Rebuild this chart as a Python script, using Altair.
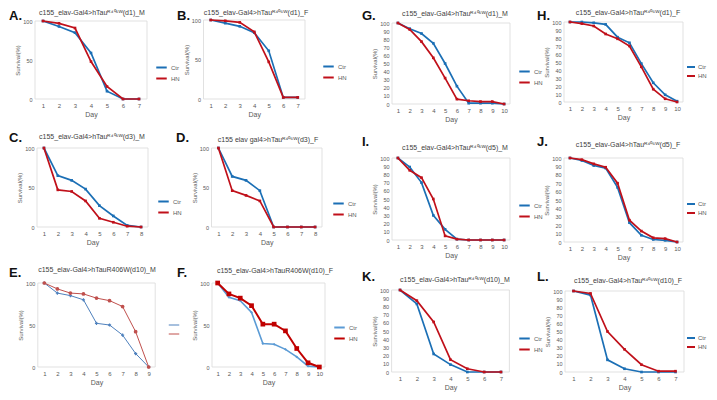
import altair as alt
import pandas as pd

W, H = 701, 384
OFF = 8  # page margin

# ---------------- data ----------------
A_days = [1, 2, 3, 4, 5, 6, 7]
A_ctr = [100, 93, 85, 59, 10, 0, 0]
A_hn = [100, 97, 91, 48, 16, 0, 0]
B_days = [1, 2, 3, 4, 5, 6, 7]
B_ctr = [100, 96, 92, 84, 61, 2, 2]
B_hn = [100, 99, 97, 85, 47, 2, 2]
C_days = [1, 2, 3, 4, 5, 6, 7, 8]
C_ctr = [100, 65, 59, 48, 27, 14, 2, 0]
C_hn = [100, 47, 45, 33, 11, 6, 1, 0]
D_days = [1, 2, 3, 4, 5, 6, 7, 8]
D_ctr = [100, 64, 59, 46, 0, 0, 0, 0]
D_hn = [100, 46, 40, 33, 0, 0, 0, 0]
E_days = [1, 2, 3, 4, 5, 6, 7, 8, 9]
E_ctr = [100, 88, 85, 80, 52, 50, 38, 16, 0]
E_hn = [100, 93, 88, 87, 82, 79, 72, 42, 0]
F_days = [1, 2, 3, 4, 5, 6, 7, 8, 9, 10]
F_ctr = [100, 83, 79, 65, 28, 27, 21, 12, 1, 0]
F_hn = [100, 87, 82, 73, 51, 51, 43, 22, 5, 0]
G_days = [1, 2, 3, 4, 5, 6, 7, 8, 9, 10]
G_ctr = [100, 93, 87, 75, 50, 22, 1, 1, 1, 0]
G_hn = [100, 92, 77, 57, 32, 6, 4, 3, 3, 0]
H_days = [1, 2, 3, 4, 5, 6, 7, 8, 9, 10]
H_ctr = [100, 100, 99, 97, 81, 74, 48, 24, 9, 1]
H_hn = [100, 98, 95, 85, 79, 70, 44, 16, 4, 0]
I_days = [1, 2, 3, 4, 5, 6, 7, 8, 9, 10]
I_ctr = [100, 89, 70, 30, 13, 1, 0, 0, 0, 0]
I_hn = [100, 85, 76, 50, 5, 1, 0, 0, 0, 0]
J_days = [1, 2, 3, 4, 5, 6, 7, 8, 9, 10]
J_ctr = [100, 97, 91, 88, 65, 23, 8, 3, 2, 0]
J_hn = [100, 98, 93, 89, 70, 26, 13, 5, 4, 0]
K_days = [1, 2, 3, 4, 5, 6, 7]
K_ctr = [100, 83, 22, 9, 0, 0, 0]
K_hn = [100, 87, 61, 15, 4, 0, 0]
L_days = [1, 2, 3, 4, 5, 6, 7]
L_ctr = [100, 95, 15, 4, 0, 0, 0]
L_hn = [100, 97, 50, 28, 9, 1, 1]

SUP = "ᴿ⁴⁰⁶ᵂ"
titles = {
    "A": f"c155_elav-Gal4>hTau{SUP}(d1)_M",
    "B": f"c155_elav-Gal4>hTau{SUP}(d1)_F",
    "C": f"c155_elav-Gal4>hTau{SUP}(d3)_M",
    "D": f"c155 elav gal4>hTau{SUP}(d3)_F",
    "E": "c155_elav-Gal4>hTauR406W(d10)_M",
    "F": "c155_elav-Gal4>hTauR406W(d10)_F",
    "G": f"c155_elav-Gal4>hTau{SUP}(d1)_M",
    "H": f"c155_elav-Gal4>hTau{SUP}(d1)_F",
    "I": f"c155_elav-Gal4>hTau{SUP}(d5)_M",
    "J": f"c155_elav-Gal4>hTau{SUP}(d5)_F",
    "K": f"c155_elav-Gal4>hTau{SUP}(d10)_M",
    "L": f"c155_elav-Gal4>hTau{SUP}(d10)_F",
}

series = {
    "A": (A_days, A_ctr, A_hn), "B": (B_days, B_ctr, B_hn),
    "C": (C_days, C_ctr, C_hn), "D": (D_days, D_ctr, D_hn),
    "E": (E_days, E_ctr, E_hn), "F": (F_days, F_ctr, F_hn),
    "G": (G_days, G_ctr, G_hn), "H": (H_days, H_ctr, H_hn),
    "I": (I_days, I_ctr, I_hn), "J": (J_days, J_ctr, J_hn),
    "K": (K_days, K_ctr, K_hn), "L": (L_days, L_ctr, L_hn),
}

# layout (image pixel coords): frame x0,x1 ; y bottom, y top ; legend left, legend row1 y ; title center ; letter top-left
layout = {
    "A": dict(fx=(35, 147), fy=(99, 21), leg=(155, 66), tt=(92, 13), lt=(9, 10)),
    "B": dict(fx=(203.5, 305), fy=(99, 20), leg=(322, 65), tt=(256, 13), lt=(177, 10)),
    "C": dict(fx=(37, 148), fy=(227, 148), leg=(157, 200), tt=(92, 137), lt=(9, 132)),
    "D": dict(fx=(211.5, 322), fy=(227, 148), leg=(332, 202), tt=(268, 140), lt=(176, 132)),
    "E": dict(fx=(37.8, 155.2), fy=(367, 283), leg=(168, 324), tt=(97, 270), lt=(9, 267)),
    "F": dict(fx=(212, 325), fy=(367, 283), leg=(333, 326), tt=(275, 271), lt=(177, 267)),
    "G": dict(fx=(392, 510), fy=(104, 23), leg=(518, 70), tt=(455, 14), lt=(362, 10)),
    "H": dict(fx=(564, 683), fy=(102, 22), leg=(686, 67), tt=(628, 13), lt=(537, 10)),
    "I": dict(fx=(392, 510), fy=(240, 158), leg=(518, 204), tt=(455, 148), lt=(362, 136)),
    "J": dict(fx=(564, 683), fy=(242, 158), leg=(686, 204), tt=(628, 145), lt=(537, 136)),
    "K": dict(fx=(391.6, 509.4), fy=(372, 290), leg=(518, 337), tt=(455, 280), lt=(362, 271)),
    "L": dict(fx=(565, 684), fy=(372, 291), leg=(686, 338), tt=(628, 281), lt=(537, 271)),
}

BLUE, RED = "#1b6fb5", "#c0101a"
styles = {k: dict(blue=BLUE, red=RED, bw=1.7, rw=1.7, bshape="square", rshape="square", bsize=7, rsize=7)
          for k in series}
styles["E"] = dict(blue="#4f81bd", red="#c0504d", bw=1.0, rw=1.0, bshape="cross", rshape="circle", bsize=10, rsize=14)
styles["F"] = dict(blue="#5b9bd5", red="#c00000", bw=1.6, rw=2.0, bshape="diamond", rshape="square", bsize=8, rsize=22)

FONT = "Liberation Sans"
GRAY = "#595959"


def panel(key):
    days, ctr, hn = series[key]
    lay = layout[key]
    st = styles[key]
    n = len(days)
    df = pd.DataFrame({
        "Day": days + days,
        "Survival": ctr + hn,
        "Group": ["Ctr"] * n + ["HN"] * n,
    })
    frame_df = pd.DataFrame({"fx0": [0.5], "fx1": [n + 0.5], "fy0": [0], "fy1": [100]})

    x0, x1 = lay["fx"][0] - OFF, lay["fx"][1] - OFF
    yb, yt = lay["fy"][0] - OFF, lay["fy"][1] - OFF
    yticks = [0, 50, 100] if key in "ABCDEF" else list(range(0, 101, 10))

    xs = alt.Scale(domain=[0.5, n + 0.5], range=[x0, x1], nice=False, zero=False)
    ys = alt.Scale(domain=[0, 100], range=[yb, yt], nice=False, zero=False)
    xax = alt.Axis(orient="bottom", offset=yb - H, values=days, title="Day", grid=False,
                   ticks=False, domain=False, labelFontSize=6, labelColor=GRAY, labelPadding=3,
                   titleFontSize=7, titleColor=GRAY, titleFontWeight="normal", titlePadding=2,
                   labelFont=FONT, titleFont=FONT, format="d")
    yax = alt.Axis(orient="left", offset=-x0, values=yticks, title="Survival(%)", grid=False,
                   ticks=False, domain=False, labelFontSize=5.5, labelColor=GRAY, labelPadding=3,
                   titleFontSize=6, titleColor=GRAY, titleFontWeight="normal", titlePadding=2,
                   labelFont=FONT, titleFont=FONT, format="d")

    right_col = key in "HJL"
    leg_kwargs = dict(orient="none", legendX=lay["leg"][0] - OFF, legendY=lay["leg"][1] - OFF - 5,
                      title=None, symbolType="stroke", symbolSize=64 if right_col else 110,
                      symbolStrokeWidth=2,
                      labelFontSize=6, labelColor=GRAY, labelFont=FONT, rowPadding=0,
                      labelOffset=2 if right_col else 3, padding=0)
    if key == "E":
        leg_kwargs["labelOpacity"] = 0
        leg_kwargs["symbolStrokeWidth"] = 1
    color = alt.Color("Group:N",
                      scale=alt.Scale(domain=["Ctr", "HN"], range=[st["blue"], st["red"]]),
                      legend=alt.Legend(**leg_kwargs))

    frame = alt.Chart(frame_df).mark_rect(fill="white", stroke="#d9d9d9", strokeWidth=0.8).encode(
        x=alt.X("fx0:Q", scale=xs, axis=xax), x2="fx1:Q",
        y=alt.Y("fy0:Q", scale=ys, axis=yax), y2="fy1:Q")

    x = alt.X("Day:Q", scale=xs, axis=xax)
    y = alt.Y("Survival:Q", scale=ys, axis=yax)

    layers = [frame]
    for grp, col, w, shp, sz in [("Ctr", st["blue"], st["bw"], st["bshape"], st["bsize"]),
                                 ("HN", st["red"], st["rw"], st["rshape"], st["rsize"])]:
        sub = alt.Chart(df).transform_filter(alt.datum.Group == grp)
        layers.append(sub.mark_line(strokeWidth=w).encode(x=x, y=y, color=color))
        layers.append(sub.mark_point(filled=True, shape=shp, size=sz, opacity=1).encode(
            x=x, y=y, color=color))
    return alt.layer(*layers)


panels = [panel(k) for k in "ABCDEFGHIJKL"]

ann = pd.DataFrame({
    "key": list("ABCDEFGHIJKL"),
    "title": [titles[k] for k in "ABCDEFGHIJKL"],
    "tx": [layout[k]["tt"][0] - OFF for k in "ABCDEFGHIJKL"],
    "ty": [layout[k]["tt"][1] - OFF for k in "ABCDEFGHIJKL"],
    "lx": [layout[k]["lt"][0] - OFF for k in "ABCDEFGHIJKL"],
    "ly": [layout[k]["lt"][1] - OFF for k in "ABCDEFGHIJKL"],
    "letter": [k + "." for k in "ABCDEFGHIJKL"],
})

title_layer = alt.Chart(ann).mark_text(fontSize=7, font=FONT, color="#404040", baseline="middle",
                                       align="center").encode(
    x=alt.X("tx:Q", scale=None), y=alt.Y("ty:Q", scale=None), text="title:N")
letter_layer = alt.Chart(ann).mark_text(fontSize=13, font=FONT, fontWeight="bold", color="#111111",
                                        baseline="top", align="left").encode(
    x=alt.X("lx:Q", scale=None), y=alt.Y("ly:Q", scale=None), text="letter:N")

chart = alt.layer(*panels, title_layer, letter_layer).resolve_scale(
    x="independent", y="independent", color="independent"
).resolve_axis(x="independent", y="independent").resolve_legend(color="independent").properties(
    width=W, height=H, autosize=alt.AutoSizeParams(type="none"), padding=0
).configure_view(stroke=None)

chart.save("out.html", embed_options={"renderer": "svg", "actions": False})
